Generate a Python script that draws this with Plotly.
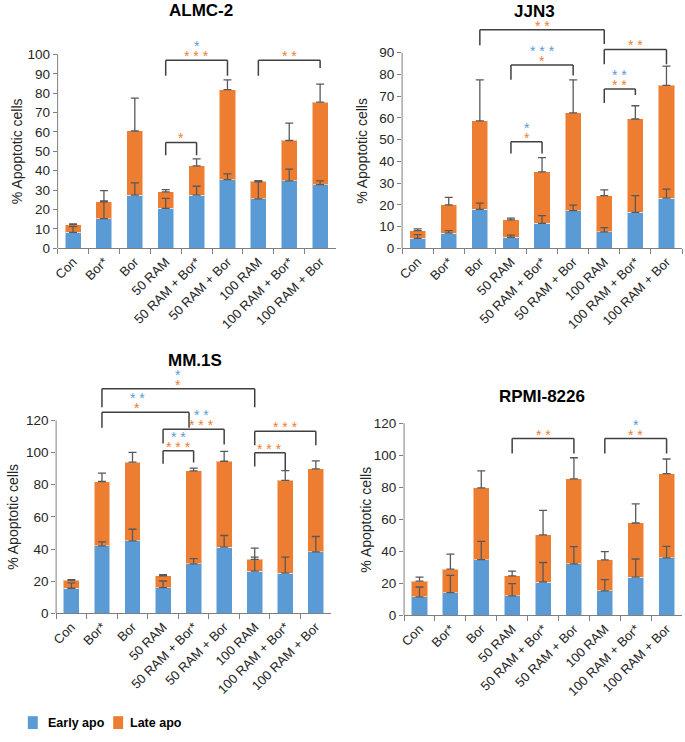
import plotly.graph_objects as go

W, H = 685, 742
FONT = "Liberation Sans"
BLUE = "#5B9BD5"
ORANGE = "#ED7D31"
ERRC = "#595959"
AXC = "#7F7F7F"


def xp(px):
    return px / W


def yp(py):
    return 1 - py / H


categories = ["Con", "Bor*", "Bor", "50 RAM", "50 RAM + Bor*", "50 RAM + Bor",
              "100 RAM", "100 RAM + Bor*", "100 RAM + Bor"]

# ALMC-2
almc_early = [8.2, 15.3, 27.4, 20.6, 27.4, 35.4, 25.5, 34.8, 32.8]
almc_late = [4.0, 8.7, 33.1, 8.5, 15.1, 46.4, 9.0, 20.8, 42.6]
almc_early_err = [3.0, 9.2, 6.3, 5.1, 4.6, 3.0, 8.8, 6.0, 2.0]
almc_late_err = [0.4, 5.7, 16.9, 1.2, 3.6, 5.1, 0.4, 9.0, 9.3]

# JJN3
jjn_early = [4.6, 7.0, 17.9, 5.0, 11.5, 17.3, 7.6, 16.5, 23.1]
jjn_late = [3.5, 13.0, 40.7, 8.1, 23.7, 45.0, 16.6, 43.0, 51.9]
jjn_early_err = [1.7, 1.1, 2.9, 1.1, 3.5, 2.6, 1.9, 7.7, 4.1]
jjn_late_err = [0.8, 3.4, 18.9, 0.8, 6.5, 15.2, 2.7, 6.1, 8.8]

# MM.1S
mm_early = [15.6, 42.0, 45.1, 16.0, 30.8, 41.2, 26.3, 25.0, 38.2]
mm_late = [4.9, 40.0, 48.9, 7.3, 57.8, 53.4, 7.3, 57.7, 51.6]
mm_early_err = [3.3, 2.5, 7.2, 4.1, 3.2, 7.2, 8.6, 9.9, 9.6]
mm_late_err = [0.5, 5.2, 6.1, 0.7, 1.7, 6.1, 7.0, 6.1, 5.0]

# RPMI-8226
rpmi_early = [11.5, 14.2, 34.8, 12.2, 20.8, 32.2, 15.3, 23.9, 35.9]
rpmi_late = [9.9, 14.7, 44.8, 12.5, 29.5, 53.1, 19.3, 33.8, 52.7]
rpmi_early_err = [6.2, 10.7, 11.4, 7.6, 12.2, 10.7, 7.0, 11.3, 7.2]
rpmi_late_err = [2.5, 9.4, 10.7, 2.9, 15.3, 13.2, 5.2, 12.0, 9.1]

# significance brackets:
# (left idx, right idx, top, left leg bottom, right leg bottom, label x (None = centre), [(stars, color) bottom-up])
almc_brackets = [
    (3, 4, 54.6, 48, 48, None, [("*", ORANGE)]),
    (3, 5, 97, 89, 89, None, [("***", ORANGE), ("*", BLUE)]),
    (6, 8, 97, 89, 93, None, [("**", ORANGE)]),
]
jjn_brackets = [
    (3, 4, 49, 43.6, 43.6, None, [("*", ORANGE), ("*", BLUE)]),
    (3, 5, 84.3, 77.5, 79.5, None, [("*", ORANGE), ("***", BLUE)]),
    (6, 7, 73.3, 66.8, 70.5, None, [("**", ORANGE), ("**", BLUE)]),
    (6, 8, 91.5, 84.7, 84.7, None, [("**", ORANGE)]),
    (2, 6, 100.6, 93.4, 94, None, [("**", ORANGE)]),
]
mm_brackets = [
    (1, 6, 139.7, 128.2, 128.2, None, [("*", ORANGE), ("*", BLUE)]),
    (1, 3.85, 125.1, 115.5, 115.5, 2.15, [("*", ORANGE), ("**", BLUE)]),
    (3, 5, 114.5, 105.6, 105, 4.25, [("***", ORANGE), ("**", BLUE)]),
    (3, 4, 101.1, 93.1, 93.8, None, [("***", ORANGE), ("**", BLUE)]),
    (6, 7, 99.9, 91.3, 89.2, None, [("***", ORANGE)]),
    (6, 8, 113.2, 104.6, 104.6, None, [("***", ORANGE)]),
]
rpmi_brackets = [
    (3, 5, 110.5, 101.2, 101.2, None, [("**", ORANGE)]),
    (6, 8, 110.5, 101.2, 101.2, None, [("**", ORANGE), ("*", BLUE)]),
]

panels = [
    dict(title="ALMC-2", early=almc_early, late=almc_late, eerr=almc_early_err, lerr=almc_late_err,
         brackets=almc_brackets, tickmax=100, dtick=10,
         px=(53, 333), py0=251, ppu=1.96, ytop=114, tpos=(197, 11), ytx=12),
    dict(title="JJN3", early=jjn_early, late=jjn_late, eerr=jjn_early_err, lerr=jjn_late_err,
         brackets=jjn_brackets, tickmax=90, dtick=10,
         px=(400, 682), py0=251, ppu=2.197, ytop=108, tpos=(533, 12), ytx=360),
    dict(title="MM.1S", early=mm_early, late=mm_late, eerr=mm_early_err, lerr=mm_late_err,
         brackets=mm_brackets, tickmax=120, dtick=20,
         px=(51.5, 328.5), py0=620, ppu=1.625, ytop=153, tpos=(191, 364), ytx=8),
    dict(title="RPMI-8226", early=rpmi_early, late=rpmi_late, eerr=rpmi_early_err, lerr=rpmi_late_err,
         brackets=rpmi_brackets, tickmax=120, dtick=20,
         px=(402, 682), py0=622, ppu=1.617, ytop=128, tpos=(541, 401), ytx=364),
]

fig = go.Figure()
shapes = []
annotations = []
layout = {}

for k, p in enumerate(panels):
    sfx = "" if k == 0 else str(k + 1)
    xa, ya = "x" + sfx, "y" + sfx
    total = [e + l for e, l in zip(p["early"], p["late"])]
    fig.add_trace(go.Bar(x=categories, y=p["early"], name="Early apo", marker_color=BLUE,
                         marker_line=dict(color="rgba(255,255,255,0.5)", width=1), width=0.52,
                         xaxis=xa, yaxis=ya, showlegend=False))
    fig.add_trace(go.Bar(x=categories, y=p["late"], name="Late apo", marker_color=ORANGE,
                         marker_line=dict(color="rgba(255,255,255,0.5)", width=1), width=0.52,
                         xaxis=xa, yaxis=ya, showlegend=False))
    for yv, ev in ((p["early"], p["eerr"]), (total, p["lerr"])):
        fig.add_trace(go.Scatter(x=categories, y=yv, mode="markers",
                                 marker=dict(size=1, color="rgba(0,0,0,0)"),
                                 error_y=dict(type="data", symmetric=False, array=ev,
                                              arrayminus=[0] * len(ev), color=ERRC,
                                              thickness=1.3, width=4),
                                 xaxis=xa, yaxis=ya, showlegend=False, hoverinfo="skip"))
    x0, x1 = p["px"]
    ytop_px = p["py0"] - p["ppu"] * p["ytop"]
    layout["xaxis" + sfx] = dict(domain=[xp(x0), xp(x1)], anchor=ya, type="category",
                                 range=[-0.5, 8.5], showline=True, linecolor=AXC, linewidth=1,
                                 ticks="outside", tickson="boundaries", ticklen=5, tickcolor=AXC,
                                 tickangle=-45, tickfont=dict(family=FONT, size=13, color="#262626"),
                                 showgrid=False, zeroline=False, fixedrange=True)
    layout["yaxis" + sfx] = dict(domain=[yp(p["py0"]), yp(ytop_px)], anchor=xa,
                                 range=[0, p["ytop"]],
                                 tickvals=list(range(0, p["tickmax"] + 1, p["dtick"])),
                                 ticks="outside", ticklen=4, tickcolor=AXC, showline=False,
                                 showgrid=False, zeroline=False,
                                 tickfont=dict(family=FONT, size=13.5, color="#262626"), fixedrange=True)
    # y spine up to the top tick
    shapes.append(dict(type="line", xref=xa + " domain", yref=ya, x0=0, x1=0, y0=0, y1=p["tickmax"],
                       line=dict(color=AXC, width=1)))
    # panel title
    annotations.append(dict(text="<b>" + p["title"] + "</b>", xref="paper", yref="paper",
                            x=xp(p["tpos"][0]), y=yp(p["tpos"][1]), showarrow=False,
                            xanchor="center", yanchor="middle",
                            font=dict(family=FONT, size=17, color="#000000")))
    # y-axis title
    ymid = p["py0"] - p["ppu"] * p["tickmax"] / 2
    annotations.append(dict(text="% Apoptotic cells", xref="paper", yref="paper",
                            x=xp(p["ytx"]), y=yp(ymid), textangle=-90, showarrow=False,
                            xanchor="center", yanchor="middle",
                            font=dict(family=FONT, size=14, color="#262626")))
    # significance brackets
    for (i, j, top, lb, rb, lx, labels) in p["brackets"]:
        lc = dict(color="#404040", width=1.5)
        shapes.append(dict(type="line", xref=xa, yref=ya, x0=i, x1=i, y0=lb, y1=top, line=lc))
        shapes.append(dict(type="line", xref=xa, yref=ya, x0=i, x1=j, y0=top, y1=top, line=lc))
        shapes.append(dict(type="line", xref=xa, yref=ya, x0=j, x1=j, y0=top, y1=rb, line=lc))
        cx = (i + j) / 2 if lx is None else lx
        for n, (txt, col) in enumerate(labels):
            annotations.append(dict(text=" ".join(txt), xref=xa, yref=ya, x=cx, y=top,
                                    yanchor="bottom", yshift=-6 + 10 * n, showarrow=False,
                                    font=dict(family=FONT, size=14, color=col)))

# legend (bottom-left)
legend_items = [("Early apo", BLUE, 23, 41), ("Late apo", ORANGE, 109, 124)]
for name, col, sx, tx in legend_items:
    shapes.append(dict(type="rect", xref="paper", yref="paper", x0=xp(sx), x1=xp(sx + 10),
                       y0=yp(737), y1=yp(724), fillcolor=col, line=dict(width=0)))
    annotations.append(dict(text="<b>" + name + "</b>", xref="paper", yref="paper",
                            x=xp(tx), y=yp(731), xanchor="left", yanchor="middle", showarrow=False,
                            font=dict(family=FONT, size=12.5, color="#000000")))

fig.update_layout(
    width=W, height=H, margin=dict(l=0, r=0, t=0, b=0),
    paper_bgcolor="white", plot_bgcolor="white",
    barmode="stack", shapes=shapes, annotations=annotations, showlegend=False,
    **layout,
)
fig.write_html("out.html", config={"displayModeBar": False, "staticPlot": True},
               post_script="document.body.style.margin='0';document.body.style.overflow='hidden';")
